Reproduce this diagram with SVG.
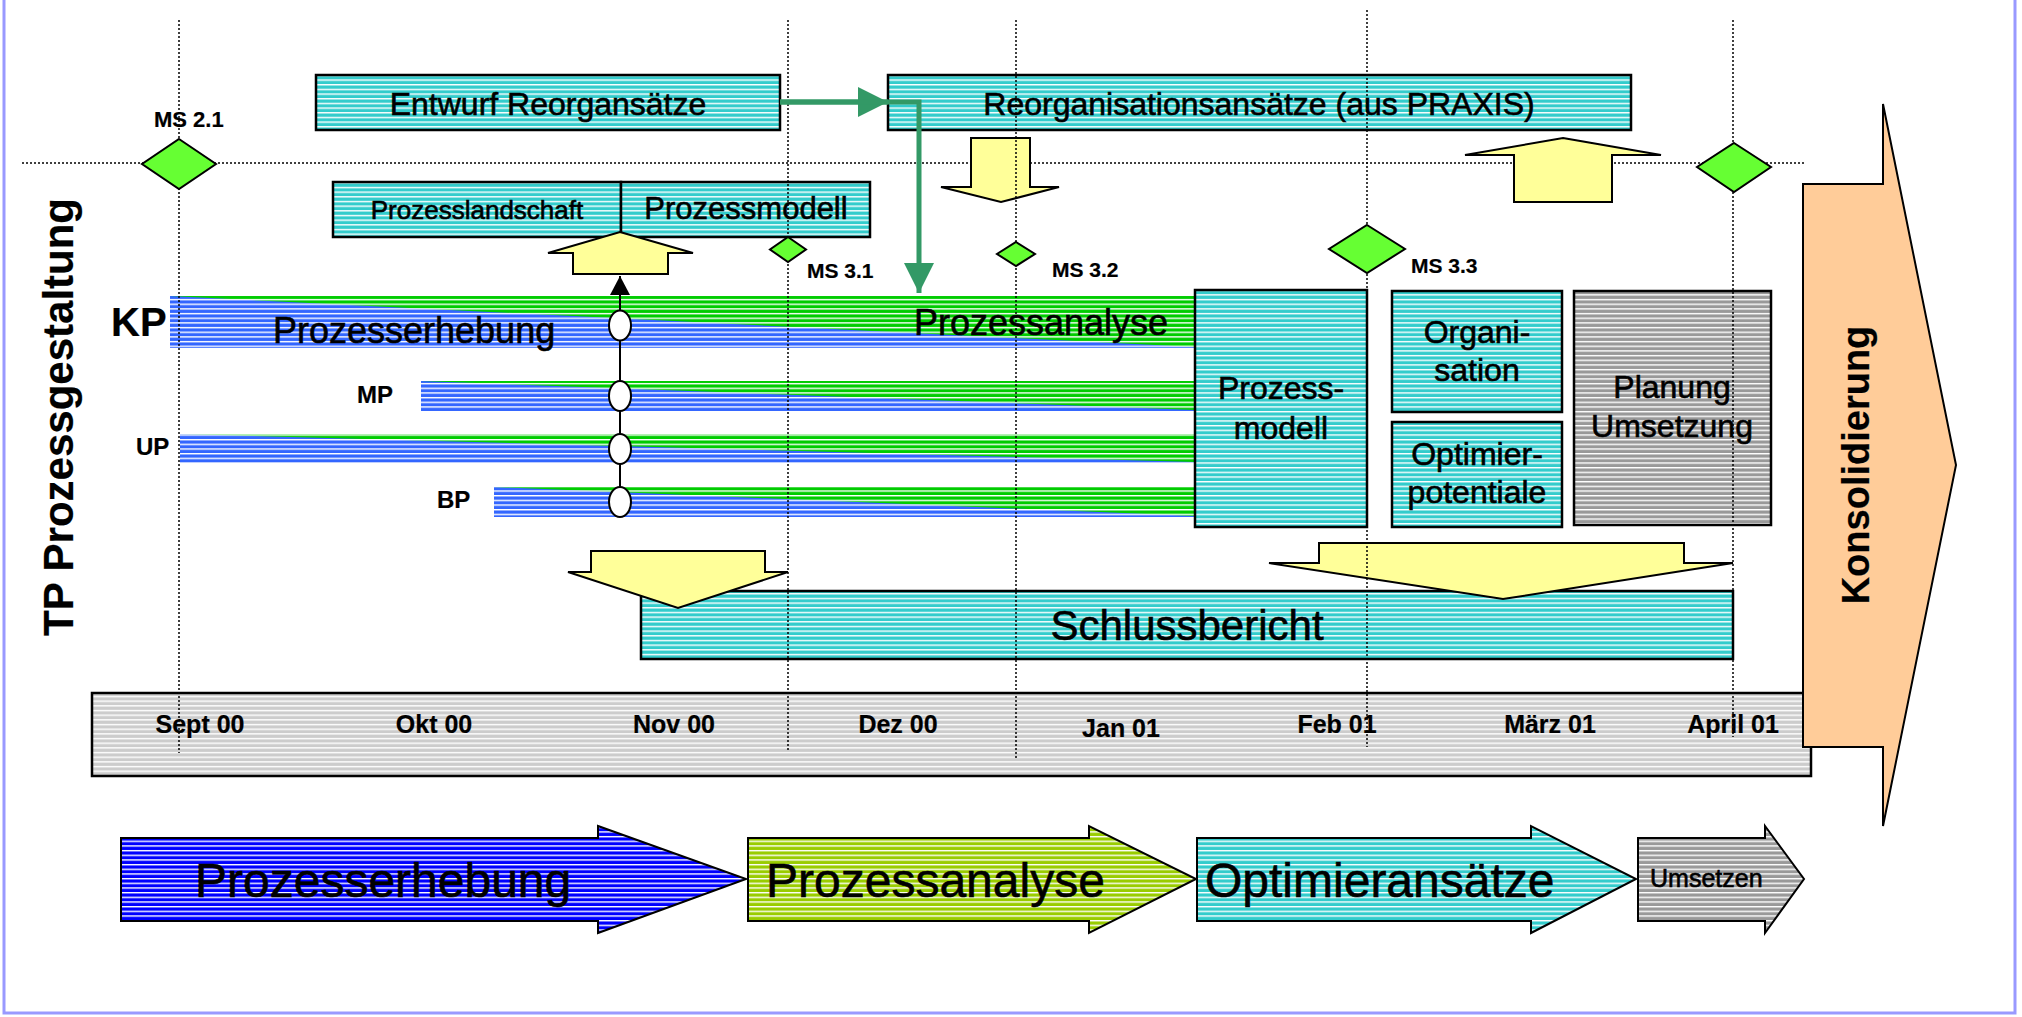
<svg xmlns="http://www.w3.org/2000/svg" width="2022" height="1017" viewBox="0 0 2022 1017">
<style>
.box{stroke:#000;stroke-width:2.5}
.t{font-family:"Liberation Sans",Arial,sans-serif;fill:#000;stroke:#000;stroke-width:0.6}
.b{font-weight:bold;stroke-width:0.2}
.m{text-anchor:middle}
.dot{stroke:#000;stroke-width:1.5;stroke-dasharray:2 2;fill:none}
.yel{fill:#ffff99;stroke:#000;stroke-width:2;stroke-linejoin:miter}
.ms{fill:#66ff33;stroke:#000;stroke-width:2}
.conn{stroke:#339966;stroke-width:5;fill:none}
.arr{stroke:#000;stroke-width:2}
.ell{fill:#fff;stroke:#000;stroke-width:2}
</style>
<defs>
<pattern id="pTeal" patternUnits="userSpaceOnUse" width="20" height="4.67"><rect width="20" height="4.67" fill="#33cccc"/><rect width="20" height="1.4" fill="#fff"/></pattern>
<pattern id="pBlue" patternUnits="userSpaceOnUse" width="20" height="4.67"><rect width="20" height="4.67" fill="#3366ff"/><rect width="20" height="1.4" fill="#fff"/></pattern>
<pattern id="pGreen" patternUnits="userSpaceOnUse" width="20" height="4.67"><rect width="20" height="4.67" fill="#00cc00"/><rect width="20" height="1.4" fill="#fff"/></pattern>
<pattern id="pGray" patternUnits="userSpaceOnUse" width="20" height="4.67"><rect width="20" height="4.67" fill="#999999"/><rect width="20" height="1.4" fill="#fff"/></pattern>
<pattern id="pLGray" patternUnits="userSpaceOnUse" width="20" height="4.67"><rect width="20" height="4.67" fill="#cccccc"/><rect width="20" height="1.4" fill="#fff"/></pattern>
<pattern id="pDBlue" patternUnits="userSpaceOnUse" width="20" height="4.67"><rect width="20" height="4.67" fill="#0000ff"/><rect width="20" height="1.4" fill="#fff"/></pattern>
<pattern id="pYG" patternUnits="userSpaceOnUse" width="20" height="4.67"><rect width="20" height="4.67" fill="#99cc00"/><rect width="20" height="1.4" fill="#fff"/></pattern>
<marker id="ag" markerUnits="userSpaceOnUse" markerWidth="30" markerHeight="30" refX="30" refY="15" orient="auto"><path d="M0,0 L30,15 L0,30 z" fill="#339966"/></marker>
<marker id="ab" markerUnits="userSpaceOnUse" markerWidth="20" markerHeight="20" refX="19" refY="10" orient="auto"><path d="M0,0 L19,10 L0,20 z" fill="#000"/></marker>
</defs>

<rect x="4" y="-5" width="2011" height="1018" fill="#fff" stroke="#9999ff" stroke-width="3"/>

<path class="dot" d="M22,163 H1805"/>

<g id="entwurf"><rect class="box" x="316" y="75" width="464" height="55" fill="url(#pTeal)"/><text class="t m" x="548" y="115" font-size="32">Entwurf Reorgansätze</text></g>
<g id="reorg"><rect class="box" x="888" y="75" width="743" height="55" fill="url(#pTeal)"/><text class="t m" x="1259" y="115" font-size="32">Reorganisationsansätze (aus PRAXIS)</text></g>
<g id="landschaft"><rect class="box" x="333" y="182" width="288" height="55" fill="url(#pTeal)"/><text class="t m" x="477" y="219" font-size="26">Prozesslandschaft</text></g>
<g id="modell-top"><rect class="box" x="621" y="182" width="249" height="55" fill="url(#pTeal)"/><text class="t m" x="746" y="219" font-size="31">Prozessmodell</text></g>

<g id="bar-kp"><rect x="170" y="296" width="1025" height="52" fill="url(#pBlue)"/><polygon points="170,296 1195,296 1195,347" fill="url(#pGreen)"/><text class="t" x="273" y="343" font-size="36">Prozesserhebung</text><text class="t" x="914" y="335" font-size="36">Prozessanalyse</text></g>
<g id="bar-mp"><rect x="421" y="381" width="774" height="30" fill="url(#pBlue)"/><polygon points="421,381 1195,381 1195,410" fill="url(#pGreen)"/></g>
<g id="bar-up"><rect x="180" y="434" width="1015" height="29" fill="url(#pBlue)"/><polygon points="180,434 1195,434 1195,462" fill="url(#pGreen)"/></g>
<g id="bar-bp"><rect x="494" y="487" width="701" height="30" fill="url(#pBlue)"/><polygon points="494,487 1195,487 1195,516" fill="url(#pGreen)"/></g>
<g id="labels">
<text class="t b" x="111" y="336" font-size="40">KP</text>
<text class="t b" x="357" y="403" font-size="24">MP</text>
<text class="t b" x="136" y="455" font-size="24">UP</text>
<text class="t b" x="437" y="508" font-size="24">BP</text>
<text class="t b m" transform="translate(73,417) rotate(-90)" font-size="42">TP Prozessgestaltung</text>
</g>

<g id="prozessmodell"><rect class="box" x="1195" y="290" width="172" height="237" fill="url(#pTeal)"/><text class="t m" x="1281" y="399" font-size="32">Prozess-</text><text class="t m" x="1281" y="439" font-size="32">modell</text></g>
<g id="organisation"><rect class="box" x="1392" y="291" width="170" height="121" fill="url(#pTeal)"/><text class="t m" x="1477" y="343" font-size="32">Organi-</text><text class="t m" x="1477" y="381" font-size="32">sation</text></g>
<g id="optimier"><rect class="box" x="1392" y="422" width="170" height="105" fill="url(#pTeal)"/><text class="t m" x="1477" y="465" font-size="32">Optimier-</text><text class="t m" x="1477" y="503" font-size="32">potentiale</text></g>
<g id="planung"><rect class="box" x="1574" y="291" width="197" height="234" fill="url(#pGray)"/><text class="t m" x="1672" y="398" font-size="32">Planung</text><text class="t m" x="1672" y="437" font-size="32">Umsetzung</text></g>

<g id="schlussbericht"><rect class="box" x="641" y="591" width="1092" height="68" fill="url(#pTeal)"/><text class="t m" x="1187" y="640" font-size="42">Schlussbericht</text></g>

<g id="timeline"><rect class="box" x="92" y="693" width="1719" height="83" fill="url(#pLGray)"/>
<text class="t b m" x="200" y="733" font-size="25">Sept 00</text>
<text class="t b m" x="434" y="733" font-size="25">Okt 00</text>
<text class="t b m" x="674" y="733" font-size="25">Nov 00</text>
<text class="t b m" x="898" y="733" font-size="25">Dez 00</text>
<text class="t b m" x="1121" y="737" font-size="25">Jan 01</text>
<text class="t b m" x="1337" y="733" font-size="25">Feb 01</text>
<text class="t b m" x="1550" y="733" font-size="25">März 01</text>
<text class="t b m" x="1733" y="733" font-size="25">April 01</text>
</g>

<g id="konsolidierung"><polygon points="1803,184 1883,184 1883,104 1956,465 1883,826 1883,747 1803,747" fill="#ffcc99" stroke="#000" stroke-width="2"/><text class="t b m" transform="translate(1869,465) rotate(-90)" font-size="38">Konsolidierung</text></g>

<g id="phase-erhebung"><polygon class="arr" points="121,838 598,838 598,826 746,879 598,933 598,921 121,921" fill="url(#pDBlue)"/><text class="t" x="195" y="897" font-size="48">Prozesserhebung</text></g>
<g id="phase-analyse"><polygon class="arr" points="748,838 1089,838 1089,826 1196,879 1089,933 1089,921 748,921" fill="url(#pYG)"/><text class="t" x="766" y="897" font-size="48">Prozessanalyse</text></g>
<g id="phase-optimier"><polygon class="arr" points="1197,838 1531,838 1531,826 1636,879 1531,933 1531,921 1197,921" fill="url(#pTeal)"/><text class="t" x="1205" y="897" font-size="48">Optimieransätze</text></g>
<g id="phase-umsetzen"><polygon class="arr" points="1638,838 1765,838 1765,826 1804,879 1765,933 1765,921 1638,921" fill="url(#pGray)"/><text class="t" x="1650" y="887" font-size="25">Umsetzen</text></g>

<g id="yellow-arrows">
<polygon class="yel" points="620,232 693,253 668,253 668,274 573,274 573,253 548,253"/>
<polygon class="yel" points="971,138 1030,138 1030,187 1059,187 1001,202 941,187 971,187"/>
<polygon class="yel" points="1563,138 1661,155 1612,155 1612,202 1514,202 1514,155 1465,155"/>
<polygon class="yel" points="591,551 765,551 765,572 788,572 678,608 568,572 591,572"/>
<polygon class="yel" points="1319,543 1684,543 1684,563 1733,563 1503,599 1269,563 1319,563"/>
</g>

<g id="gridlines">
<path class="dot" d="M179,20 V753"/>
<path class="dot" d="M788,20 V750"/>
<path class="dot" d="M1016,20 V758"/>
<path class="dot" d="M1367,10 V747"/>
<path class="dot" d="M1733,20 V737"/>
</g>

<g id="milestones">
<polygon class="ms" points="179,139 216,164 179,189 142,164"/>
<text class="t b" x="154" y="127" font-size="22">MS 2.1</text>
<polygon class="ms" points="1734,143 1771,167 1734,192 1697,167"/>
<polygon class="ms" points="788,237 806,249.5 788,262 770,249.5"/>
<text class="t b" x="807" y="278" font-size="21">MS 3.1</text>
<polygon class="ms" points="1016,242 1035,254 1016,266 997,254"/>
<text class="t b" x="1052" y="277" font-size="21">MS 3.2</text>
<polygon class="ms" points="1367,225 1405,249 1367,273 1329,249"/>
<text class="t b" x="1411" y="273" font-size="21">MS 3.3</text>
</g>

<g id="connectors">
<path class="conn" d="M780,102 H888" marker-end="url(#ag)"/>
<path class="conn" d="M780,102 H919 V293" marker-end="url(#ag)"/>
<path d="M620,502 V276" stroke="#000" stroke-width="2" fill="none" marker-end="url(#ab)"/>
<ellipse class="ell" cx="620" cy="325.5" rx="11" ry="15"/>
<ellipse class="ell" cx="620" cy="396" rx="11" ry="15"/>
<ellipse class="ell" cx="620" cy="449" rx="11" ry="15"/>
<ellipse class="ell" cx="620" cy="502" rx="11" ry="15"/>
</g>
</svg>
